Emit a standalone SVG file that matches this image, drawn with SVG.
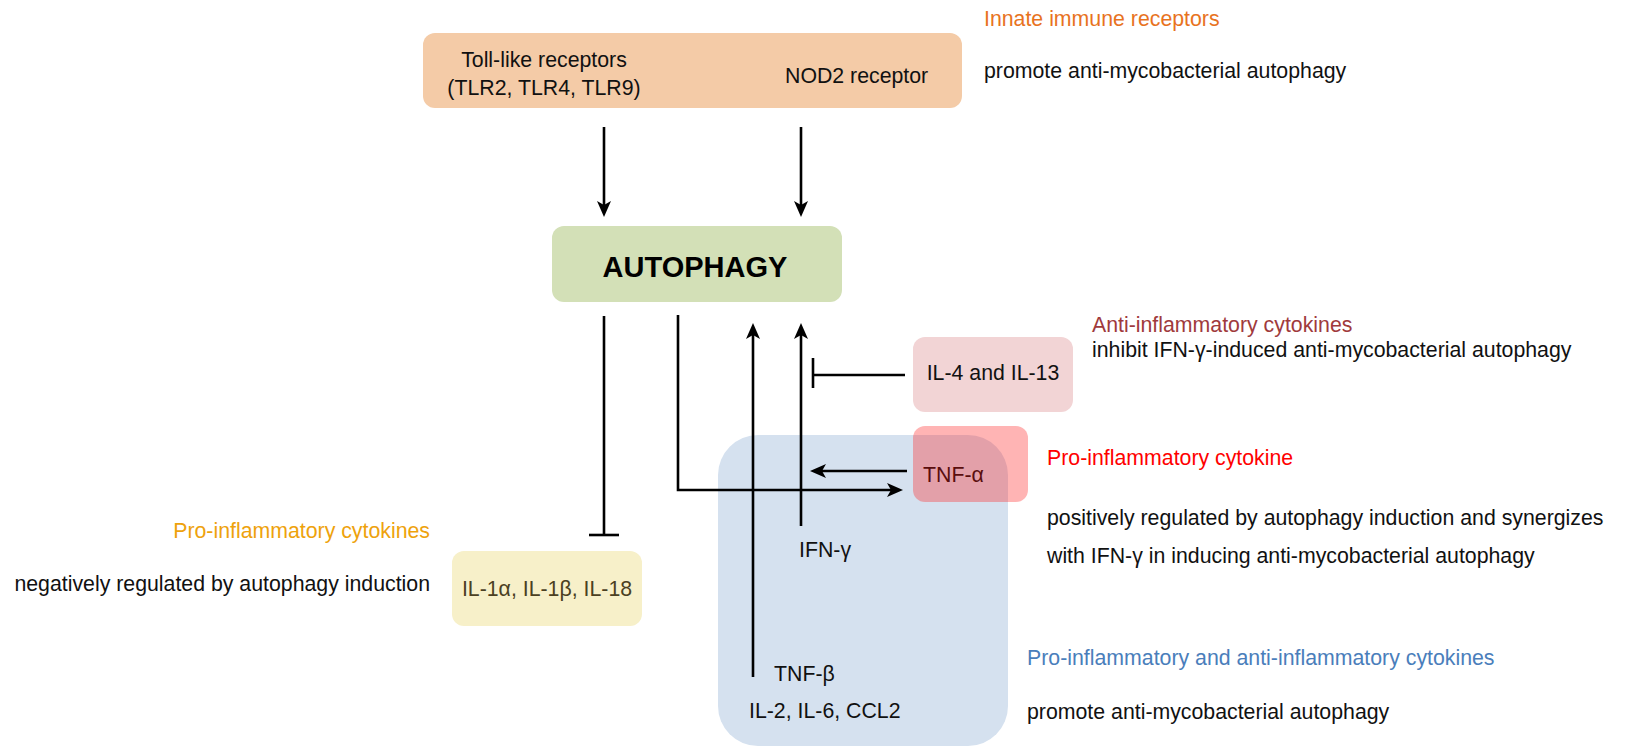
<svg xmlns="http://www.w3.org/2000/svg" width="1625" height="747" viewBox="0 0 1625 747">
  <style>
    text { font-family: "Liberation Sans", Arial, sans-serif; font-size: 21.3px; fill: #111; }
    .title { font-weight: bold; font-size: 29px; fill: #000; }
    .c-orange { fill: #E8731E; }
    .c-gold { fill: #EEA20C; }
    .c-brown { fill: #A03A3C; }
    .c-red { fill: #FF0000; }
    .c-blue { fill: #4A7EBB; }
    .wire { fill: none; stroke: #000; stroke-width: 2.6; }
    .box { stroke: none; }
  </style>
  <defs>
    <marker id="arrow" markerUnits="userSpaceOnUse" viewBox="0 0 16 14" markerWidth="16" markerHeight="14" refX="6" refY="7" orient="auto">
      <path d="M0,0 L16,7 L0,14 L4,7 Z" fill="#000"/>
    </marker>
  </defs>

  <!-- background -->
  <rect x="0" y="0" width="1625" height="747" fill="#fff"/>

  <!-- cytokine group panel (drawn first, other boxes overlap it) -->
  <g id="cytokine-panel">
    <rect class="box" x="718" y="435" width="290" height="311" rx="40" ry="40" fill="#D5E1EF"/>
    <text x="799" y="557">IFN-γ</text>
    <text x="774" y="681">TNF-β</text>
    <text x="749" y="718">IL-2, IL-6, CCL2</text>
  </g>

  <g id="innate-receptors">
    <rect class="box" x="423" y="33" width="539" height="75" rx="12" ry="12" fill="#F4CBA7"/>
    <text x="544" y="67" text-anchor="middle">Toll-like receptors</text>
    <text x="544" y="95" text-anchor="middle">(TLR2, TLR4, TLR9)</text>
    <text x="785" y="83">NOD2 receptor</text>
  </g>

  <g id="autophagy">
    <rect class="box" x="552" y="226" width="290" height="76" rx="12" ry="12" fill="#D3E0B7"/>
    <text class="title" x="695" y="277" text-anchor="middle">AUTOPHAGY</text>
  </g>

  <g id="il4-il13">
    <rect class="box" x="913" y="337" width="160" height="75" rx="12" ry="12" fill="#F2D4D5"/>
    <text x="993" y="380" text-anchor="middle">IL-4 and IL-13</text>
  </g>

  <g id="tnf-alpha">
    <rect class="box" x="913" y="426" width="115" height="76" rx="12" ry="12" fill="#FF2828" fill-opacity="0.35"/>
    <text x="923" y="482" style="fill:#5A0E0E">TNF-α</text>
  </g>

  <g id="il1-il18">
    <rect class="box" x="452" y="551" width="190" height="75" rx="12" ry="12" fill="#F7F0C9"/>
    <text x="547" y="596" text-anchor="middle" style="fill:#4B4022">IL-1α, IL-1β, IL-18</text>
  </g>

  <!-- side annotations -->
  <g id="annotations">
    <text class="c-orange" x="984" y="26">Innate immune receptors</text>
    <text x="984" y="78">promote anti-mycobacterial autophagy</text>

    <text class="c-brown" x="1092" y="332">Anti-inflammatory cytokines</text>
    <text x="1092" y="357">inhibit IFN-γ-induced anti-mycobacterial autophagy</text>

    <text class="c-red" x="1047" y="465">Pro-inflammatory cytokine</text>
    <text x="1047" y="525">positively regulated by autophagy induction and synergizes</text>
    <text x="1047" y="563">with IFN-γ in inducing anti-mycobacterial autophagy</text>

    <text class="c-blue" x="1027" y="665">Pro-inflammatory and anti-inflammatory cytokines</text>
    <text x="1027" y="719">promote anti-mycobacterial autophagy</text>

    <text class="c-gold" x="430" y="538" text-anchor="end">Pro-inflammatory cytokines</text>
    <text x="430" y="591" text-anchor="end">negatively regulated by autophagy induction</text>
  </g>

  <g id="connectors">
    <!-- receptors activate autophagy -->
    <path class="wire" d="M604,127 V207" marker-end="url(#arrow)"/>
    <path class="wire" d="M801,127 V207" marker-end="url(#arrow)"/>
    <!-- autophagy suppresses IL-1 family -->
    <path class="wire" d="M604,316 V535"/>
    <path class="wire" d="M589,535 H619"/>
    <!-- autophagy induces TNF-alpha -->
    <path class="wire" d="M678,315 V490 H893" marker-end="url(#arrow)"/>
    <!-- TNF-beta / IL-2, IL-6, CCL2 promote autophagy -->
    <path class="wire" d="M753,677 V333" marker-end="url(#arrow)"/>
    <!-- IFN-gamma promotes autophagy -->
    <path class="wire" d="M801,526 V333" marker-end="url(#arrow)"/>
    <!-- IL-4 / IL-13 inhibit IFN-gamma effect -->
    <path class="wire" d="M905,375 H813"/>
    <path class="wire" d="M813,358 V388"/>
    <!-- TNF-alpha synergizes with IFN-gamma -->
    <path class="wire" d="M907,471 H820" marker-end="url(#arrow)"/>
  </g>
</svg>
